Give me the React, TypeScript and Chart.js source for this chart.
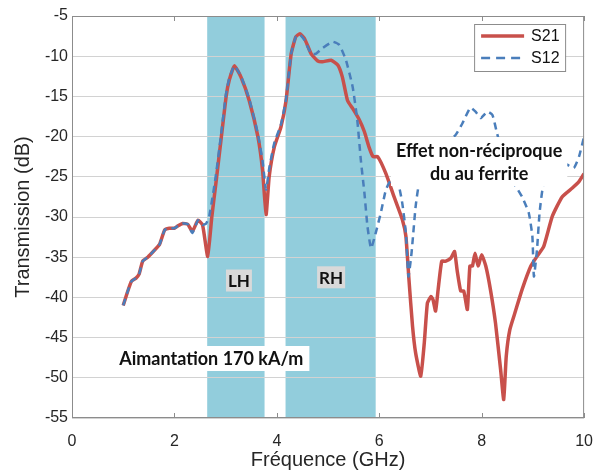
import React, { useEffect, useRef } from "react";
import { Chart, registerables, ChartConfiguration, Plugin } from "chart.js";

Chart.register(...registerables);

// S21 (trait plein rouge)
const s21Freq = [
  1.0, 1.08, 1.16, 1.25, 1.31, 1.38, 1.48, 1.6, 1.71, 1.81, 1.9, 2.0, 2.07,
  2.16, 2.26, 2.35, 2.46, 2.55, 2.65, 2.73, 2.81, 2.91, 3.01, 3.07, 3.17, 3.3,
  3.46, 3.63, 3.72, 3.79, 3.85, 3.95, 4.08, 4.18, 4.28, 4.37, 4.45, 4.54, 4.67,
  4.8, 4.89, 5.06, 5.19, 5.28, 5.38, 5.48, 5.61, 5.71, 5.8, 5.88, 5.97, 6.13,
  6.29, 6.45, 6.52, 6.58, 6.65, 6.71, 6.81, 6.88, 6.94, 7.01, 7.05, 7.1, 7.15,
  7.22, 7.3, 7.4, 7.47, 7.52, 7.59, 7.65, 7.72, 7.77, 7.82, 7.87, 7.93, 8.0,
  8.08, 8.17, 8.27, 8.37, 8.43, 8.48, 8.55, 8.66, 8.79, 8.96, 9.08, 9.21, 9.38,
  9.57, 9.77, 9.9, 10.0,
];
const s21Db = [
  -41.0, -39.4, -38.0, -37.6, -37.1, -35.5, -35.0, -34.2, -33.4, -31.6, -31.4,
  -31.4, -31.1, -30.8, -30.9, -31.8, -30.4, -31.0, -34.9, -30.0, -25.8, -20.4,
  -15.0, -13.0, -11.2, -12.6, -15.5, -20.0, -24.1, -29.7, -25.0, -21.3, -18.8,
  -15.5, -9.7, -7.6, -7.2, -7.8, -9.7, -10.6, -10.7, -10.5, -11.1, -12.6, -15.5,
  -16.5, -17.9, -19.4, -21.3, -22.5, -22.5, -24.6, -27.5, -30.3, -32.4, -37.8,
  -43.6, -46.9, -49.8, -45.6, -40.7, -39.9, -40.3, -41.7, -39.0, -35.5, -35.5,
  -35.1, -34.3, -36.6, -39.2, -39.2, -41.5, -36.1, -36.1, -34.5, -36.1, -34.7,
  -36.1, -39.0, -43.2, -49.0, -52.7, -47.3, -44.0, -41.7, -39.0, -36.1, -34.9,
  -33.7, -29.9, -27.5, -26.4, -25.6, -24.6,
];

// S12 (tirets bleus)
const s12Freq = [
  1.0, 1.08, 1.16, 1.25, 1.31, 1.38, 1.48, 1.6, 1.71, 1.81, 1.9, 2.0, 2.07,
  2.16, 2.26, 2.35, 2.46, 2.55, 2.62, 2.68, 2.75, 2.81, 2.91, 3.01, 3.07, 3.17,
  3.3, 3.46, 3.63, 3.72, 3.79, 3.85, 3.95, 4.08, 4.18, 4.28, 4.37, 4.45, 4.54,
  4.67, 4.76, 4.89, 5.09, 5.22, 5.35, 5.48, 5.57, 5.64, 5.71, 5.77, 5.84, 5.93,
  6.03, 6.13, 6.23, 6.36, 6.45, 6.52, 6.57, 6.63, 6.71, 6.78, 7.0, 7.25, 7.49,
  7.62, 7.78, 7.88, 7.98, 8.11, 8.21, 8.3, 8.45, 8.63, 8.79, 8.92, 8.99, 9.02,
  9.08, 9.13, 9.21, 9.45, 9.67, 9.8, 9.9, 10.0,
];
const s12Db = [
  -41.0, -39.4, -38.0, -37.6, -37.1, -35.5, -35.0, -34.2, -33.4, -31.6, -31.4,
  -31.4, -31.1, -30.8, -30.9, -32.0, -30.4, -31.0, -30.8, -29.9, -27.3, -24.8,
  -19.8, -14.6, -12.8, -11.2, -12.5, -15.3, -19.7, -23.0, -26.6, -24.0, -20.8,
  -18.5, -15.3, -9.7, -7.6, -7.3, -8.0, -9.7, -9.7, -9.0, -8.2, -8.6, -10.5,
  -13.8, -17.9, -22.9, -27.0, -31.2, -33.9, -32.0, -29.5, -26.6, -25.4, -25.6,
  -28.3, -32.0, -37.4, -34.5, -28.7, -25.8, -23.0, -21.2, -19.8, -18.4, -16.4,
  -16.9, -17.7, -16.9, -17.3, -19.6, -23.0, -25.8, -27.5, -29.5, -32.4, -37.4,
  -34.1, -29.5, -25.8, -23.0, -23.5, -23.9, -22.5, -20.0,
];

// bandes LH / RH (GHz)
const bandStart = [2.64, 4.17];
const bandEnd = [3.76, 5.93];
const bandLabels = ["LH", "RH"];
const bandLabelX = [3.26, 5.06];
const bandLabelY = [-37.9, -37.5];

const seriesNames = ["S21", "S12"];
const red = "#C8504B";
const blue = "#4A7EBB";
const axisFont = "'Liberation Sans', Arial, sans-serif";
const noteFont = "Lato, 'Open Sans', sans-serif";

function note(
  ctx: CanvasRenderingContext2D,
  lines: string[],
  cx: number,
  cy: number,
  lineH: number,
  padX: number,
  padY: number,
  bg: string
) {
  const w = Math.max(...lines.map((l) => ctx.measureText(l).width));
  const h = lines.length * lineH;
  ctx.fillStyle = bg;
  ctx.fillRect(cx - w / 2 - padX, cy - h / 2 - padY, w + padX * 2, h + padY * 2);
  ctx.fillStyle = "#111";
  ctx.textAlign = "center";
  ctx.textBaseline = "middle";
  lines.forEach((l, i) => {
    ctx.fillText(l, cx, cy - h / 2 + lineH * (i + 0.5) + 1);
  });
}

const overlay: Plugin<"line"> = {
  id: "overlay",
  beforeDraw(chart) {
    const { ctx, chartArea: a, scales } = chart;
    const x = scales.x;
    ctx.save();
    ctx.fillStyle = "#fff";
    ctx.fillRect(0, 0, chart.width, chart.height);
    ctx.fillStyle = "#92CDDC";
    bandStart.forEach((s, i) => {
      const x0 = x.getPixelForValue(s);
      const x1 = x.getPixelForValue(bandEnd[i]);
      ctx.fillRect(x0, a.top, x1 - x0, a.bottom - a.top);
    });
    ctx.restore();
  },
  afterDatasetsDraw(chart) {
    const { ctx, chartArea: a, scales } = chart;
    const x = scales.x;
    const y = scales.y;
    ctx.save();

    // cadre + petites graduations
    ctx.strokeStyle = "#8c8c8c";
    ctx.lineWidth = 1;
    ctx.strokeRect(a.left + 0.5, a.top + 0.5, a.right - a.left - 1, a.bottom - a.top - 1);
    x.ticks.forEach((t) => {
      const px = Math.round(x.getPixelForValue(t.value)) + 0.5;
      ctx.beginPath();
      ctx.moveTo(px, a.top);
      ctx.lineTo(px, a.top + 5);
      ctx.moveTo(px, a.bottom);
      ctx.lineTo(px, a.bottom - 5);
      ctx.stroke();
    });

    ctx.font = `bold 18px ${noteFont}`;
    note(ctx, ["Aimantation 170 kA/m"], x.getPixelForValue(2.72), y.getPixelForValue(-47.6), 20, 6, 2.5, "#fff");
    note(
      ctx,
      ["Effet non-réciproque", "du au ferrite"],
      x.getPixelForValue(7.95),
      y.getPixelForValue(-23.1),
      23,
      5,
      1.5,
      "#fff"
    );
    ctx.font = `bold 17px ${noteFont}`;
    bandLabels.forEach((l, i) => {
      note(ctx, [l], x.getPixelForValue(bandLabelX[i]), y.getPixelForValue(bandLabelY[i]), 20, 2, 1, "#d9d9d9");
    });

    // légende
    const lx = a.right - 110;
    const ly = a.top + 8;
    ctx.fillStyle = "#fff";
    ctx.fillRect(lx, ly, 91, 47);
    ctx.strokeStyle = "#8c8c8c";
    ctx.strokeRect(lx + 0.5, ly + 0.5, 91, 47);
    ctx.lineWidth = 3.5;
    ctx.strokeStyle = red;
    ctx.beginPath();
    ctx.moveTo(lx + 7, ly + 12);
    ctx.lineTo(lx + 50, ly + 12);
    ctx.stroke();
    ctx.lineWidth = 2.5;
    ctx.strokeStyle = blue;
    ctx.setLineDash([9, 6]);
    ctx.beginPath();
    ctx.moveTo(lx + 7, ly + 34);
    ctx.lineTo(lx + 52, ly + 34);
    ctx.stroke();
    ctx.setLineDash([]);
    ctx.fillStyle = "#111";
    ctx.font = `16px ${axisFont}`;
    ctx.textAlign = "left";
    ctx.textBaseline = "middle";
    ctx.fillText(seriesNames[0], lx + 57, ly + 13);
    ctx.fillText(seriesNames[1], lx + 57, ly + 35);
    ctx.restore();
  },
};

export default function App() {
  const canvasRef = useRef<HTMLCanvasElement | null>(null);

  useEffect(() => {
    if (!canvasRef.current) return;
    const s21 = s21Freq.map((f, i) => ({ x: f, y: s21Db[i] }));
    const s12 = s12Freq.map((f, i) => ({ x: f, y: s12Db[i] }));

    const config: ChartConfiguration<"line"> = {
      type: "line",
      data: {
        datasets: [
          {
            label: seriesNames[0],
            data: s21,
            borderColor: red,
            borderWidth: 3.5,
            pointRadius: 0,
            tension: 0.15,
            order: 2,
          },
          {
            label: seriesNames[1],
            data: s12,
            borderColor: blue,
            borderWidth: 2.5,
            borderDash: [7, 5],
            pointRadius: 0,
            tension: 0.15,
            order: 1,
          },
        ],
      },
      options: {
        responsive: false,
        animation: false,
        layout: { padding: { top: 16, right: 13, left: 0, bottom: 0 } },
        plugins: { legend: { display: false }, tooltip: { enabled: false } },
        scales: {
          x: {
            type: "linear",
            min: 0,
            max: 10,
            ticks: {
              stepSize: 2,
              padding: 6,
              color: "#262626",
              font: { family: axisFont, size: 16 },
            },
            grid: { display: false },
            border: { display: false },
            title: {
              display: true,
              text: "Fréquence (GHz)",
              color: "#262626",
              font: { family: axisFont, size: 20 },
              padding: { top: 0, bottom: 3 },
            },
            afterFit: (s) => {
              s.height = 57;
            },
          },
          y: {
            min: -55,
            max: -5,
            ticks: {
              stepSize: 5,
              padding: 4,
              color: "#262626",
              font: { family: axisFont, size: 16 },
            },
            grid: { color: "#d2d2d2", lineWidth: 1, drawTicks: false },
            border: { display: false },
            title: {
              display: true,
              text: "Transmission (dB)",
              color: "#262626",
              font: { family: axisFont, size: 20 },
              padding: { top: 11, bottom: 0 },
            },
            afterFit: (s) => {
              s.width = 72;
            },
          },
        },
      },
      plugins: [overlay],
    };

    const chart = new Chart(canvasRef.current, config);
    return () => chart.destroy();
  }, []);

  return (
    <div style={{ position: "absolute", left: 0, top: 0, width: 599, height: 475, background: "#fff" }}>
      <canvas ref={canvasRef} width={599} height={475} />
    </div>
  );
}
